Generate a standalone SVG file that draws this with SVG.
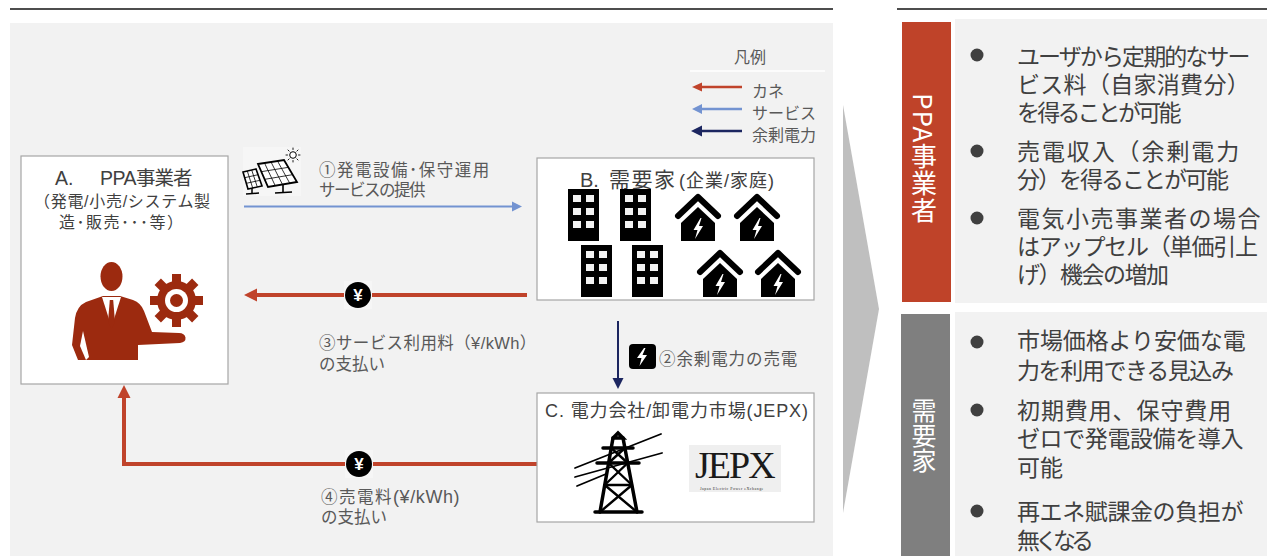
<svg xmlns="http://www.w3.org/2000/svg" width="1267" height="556" viewBox="0 0 1267 556">
  <style>
    .jp { font-family: "Liberation Sans", "Noto Sans CJK JP", sans-serif; }
    .cjk { font-family: "Noto Sans CJK JP", "Noto Sans", sans-serif; }
    .lbl { fill: #595959; font-size: 16.5px; }
    .ttl { fill: #404040; }
    .leg { fill: #595959; font-size: 16px; }
    .pt { fill: #404040; font-size: 23px; }
    .vert { fill: #ffffff; font-size: 26px; writing-mode: vertical-rl; }
    .box { fill: #ffffff; stroke: #a6a6a6; stroke-width: 1.2; }
    .panel { fill: #f2f2f2; }
    .rule { stroke: #4d4d4d; stroke-width: 2; }
    .money { fill: none; stroke: #c0432b; stroke-width: 4; }
    .service { fill: none; stroke: #7393d1; stroke-width: 2; }
    .power { fill: none; stroke: #1c2660; stroke-width: 2; }
    .staff { fill: #9c2a0f; }
  </style>
  <defs>
    <marker id="mRed" markerUnits="userSpaceOnUse" markerWidth="14" markerHeight="14" viewBox="0 -7 14 14" refX="0" refY="0" orient="auto">
      <path d="M0,-6.5 L13,0 L0,6.5 z" fill="#c0432b"/>
    </marker>
    <marker id="mRedS" markerUnits="userSpaceOnUse" markerWidth="12" markerHeight="12" viewBox="0 -6 12 12" refX="0" refY="0" orient="auto">
      <path d="M0,-4.5 L10,0 L0,4.5 z" fill="#c0432b"/>
    </marker>
    <marker id="mBlue" markerUnits="userSpaceOnUse" markerWidth="12" markerHeight="12" viewBox="0 -6 12 12" refX="0" refY="0" orient="auto">
      <path d="M0,-5 L10,0 L0,5 z" fill="#7393d1"/>
    </marker>
    <marker id="mNavy" markerUnits="userSpaceOnUse" markerWidth="12" markerHeight="12" viewBox="0 -6 12 12" refX="0" refY="0" orient="auto">
      <path d="M0,-5.5 L11,0 L0,5.5 z" fill="#1c2660"/>
    </marker>
    <!-- office building: 31 x 52 -->
    <symbol id="building" overflow="visible">
      <rect x="0" y="0" width="31" height="52" fill="#000"/>
      <g fill="#f2f2f2">
        <rect x="5" y="6" width="8" height="7"/>
        <rect x="18" y="6" width="8" height="7"/>
        <rect x="5" y="19" width="8" height="7"/>
        <rect x="18" y="19" width="8" height="7"/>
        <rect x="5" y="32" width="8" height="7"/>
        <rect x="18" y="32" width="8" height="7"/>
      </g>
    </symbol>
    <!-- house with power bolt, origin at roof apex -->
    <symbol id="house" overflow="visible">
      <polyline points="-20,21 0,2 20,21" fill="none" stroke="#000" stroke-width="6" stroke-linecap="round" stroke-linejoin="round"/>
      <polygon points="0,12 17,28 17,46 -17,46 -17,28" fill="#000"/>
      <polygon points="2.5,23 -4.5,35 -0.5,35 -3,44 5,31 1,31 3.5,23" fill="#fff"/>
    </symbol>
    <!-- yen coin -->
    <symbol id="yen" overflow="visible">
      <rect x="-14" y="-14" width="28" height="28" fill="#f6f6f6"/>
      <circle cx="0" cy="0" r="13" fill="#000"/>
      <text x="0" y="6" text-anchor="middle" font-family="Liberation Sans, sans-serif" font-weight="bold" font-size="17" fill="#fff">¥</text>
    </symbol>
  </defs>

  <rect x="0" y="0" width="1267" height="556" fill="#ffffff"/>

  <!-- section rules -->
  <line class="rule" x1="10" y1="9" x2="833" y2="9"/>
  <line class="rule" x1="897" y1="9" x2="1267" y2="9"/>

  <!-- scheme panel -->
  <rect class="panel" x="10" y="23" width="823" height="533"/>

  <!-- legend -->
  <g id="legend" class="jp">
    <text class="leg" x="750" y="63" text-anchor="middle">凡例</text>
    <line x1="690" y1="71" x2="825" y2="71" stroke="#ffffff" stroke-width="1.5"/>
    <line x1="742" y1="87" x2="702" y2="87" stroke="#c0432b" stroke-width="2.7" marker-end="url(#mRedS)"/>
    <line x1="742" y1="109" x2="702" y2="109" stroke="#7393d1" stroke-width="2.7" marker-end="url(#mBlue)"/>
    <line x1="742" y1="131" x2="702" y2="131" stroke="#1c2660" stroke-width="2.7" marker-end="url(#mNavy)"/>
    <text class="leg"><tspan x="752" y="97">カネ</tspan><tspan x="752" y="119">サービス</tspan><tspan x="752" y="141">余剰電力</tspan></text>
  </g>

  <!-- connectors -->
  <g id="connectors" class="jp">
    <line class="service" x1="244" y1="206.5" x2="512" y2="206.5" marker-end="url(#mBlue)"/>
    <line class="money" x1="527" y1="295" x2="257" y2="295" marker-end="url(#mRed)"/>
    <line class="power" x1="618" y1="321" x2="618" y2="378" marker-end="url(#mNavy)"/>
    <path class="money" d="M537,464 H124 V398" marker-end="url(#mRed)"/>
    <use href="#yen" x="358" y="295"/>
    <use href="#yen" x="359" y="464"/>

    <!-- solar panels -->
    <g id="solar" stroke="#000" fill="#fff">
      <rect x="243" y="147" width="58" height="49" fill="#f6f6f6" stroke="none"/>
      <line x1="252" y1="188" x2="252" y2="193.5" stroke-width="1.5"/>
      <line x1="246" y1="194" x2="259" y2="193" stroke-width="1.5"/>
      <polygon points="243,172 256,169 262,186 248,189" stroke-width="1.6"/>
      <g stroke-width="0.8">
        <line x1="247.3" y1="171" x2="252.7" y2="188"/>
        <line x1="251.7" y1="170" x2="257.3" y2="187"/>
        <line x1="244.7" y1="177.7" x2="258" y2="174.7"/>
        <line x1="246.3" y1="183.3" x2="260" y2="180.3"/>
      </g>
      <line x1="283" y1="185" x2="283" y2="192" stroke-width="1.6"/>
      <line x1="275" y1="193" x2="292" y2="192" stroke-width="1.6"/>
      <polygon points="258,164 284,160 297,182 268,187" stroke-width="1.8"/>
      <g stroke-width="0.8">
        <line x1="264.5" y1="163" x2="275.25" y2="185.75"/>
        <line x1="271" y1="162" x2="282.5" y2="184.5"/>
        <line x1="277.5" y1="161" x2="289.75" y2="183.25"/>
        <line x1="261.33" y1="171.67" x2="288.33" y2="167.33"/>
        <line x1="264.67" y1="179.33" x2="292.67" y2="174.67"/>
      </g>
      <circle cx="293" cy="155" r="3.3" stroke-width="1"/>
      <g stroke-width="0.9" stroke-linecap="round">
        <line x1="293" y1="149.5" x2="293" y2="148"/>
        <line x1="293" y1="160.5" x2="293" y2="162"/>
        <line x1="287.5" y1="155" x2="286" y2="155"/>
        <line x1="298.5" y1="155" x2="300" y2="155"/>
        <line x1="289.1" y1="151.1" x2="288" y2="150"/>
        <line x1="296.9" y1="151.1" x2="298" y2="150"/>
        <line x1="289.1" y1="158.9" x2="288" y2="160"/>
        <line x1="296.9" y1="158.9" x2="298" y2="160"/>
      </g>
    </g>

    <!-- power badge -->
    <rect x="629" y="344" width="27" height="25" rx="4" fill="#000"/>
    <polygon points="644,348 637,358 641.5,358 639.5,366 647,355 642.5,355 645.5,348" fill="#fff"/>

    <text class="lbl"><tspan x="319" y="176" letter-spacing="1.5">①発電設備･保守運用</tspan><tspan x="319" y="196" letter-spacing="-1.5">サービスの提供</tspan></text>
    <text class="lbl"><tspan x="319" y="349" letter-spacing="0.4">③サービス利用料（¥/kWh）</tspan><tspan x="319" y="370">の支払い</tspan></text>
    <text class="lbl" x="659" y="365" letter-spacing="0.9">②余剰電力の売電</text>
    <text class="lbl"><tspan x="321" y="503" letter-spacing="1.5">④売電料</tspan><tspan font-size="18" letter-spacing="0.6">(¥/kWh)</tspan><tspan x="321" y="523">の支払い</tspan></text>
  </g>

  <!-- A. PPA operator -->
  <g id="nodeA" class="jp">
    <rect class="box" x="21" y="156" width="207" height="228"/>
    <text class="ttl"><tspan x="55" y="185" font-size="19.5">A.</tspan><tspan x="100" y="185" font-size="19.5" letter-spacing="-0.5">PPA</tspan><tspan font-size="19.5" letter-spacing="-1">事業者</tspan><tspan x="34" y="207" font-size="16" letter-spacing="0.7">（発電/小売/システム製</tspan><tspan x="59" y="228" font-size="16" letter-spacing="1.5">造･販売･･･等）</tspan></text>
    <g id="staff" class="staff">
      <ellipse cx="111.5" cy="276.5" rx="11" ry="14.5"/>
      <path d="M103,296 L86,302 Q77,306 75,318 L72,345 L78,360 L138,360 L138,345 L180,343 Q186,342 185.5,337.5 Q184.5,333 179,333 L152,332 L144,311 Q141,303 133,300 L120,296 Z"/>
      <polygon points="102,297 121,297 111.5,327" fill="#ffffff"/>
      <polygon points="109.8,300 113.2,300 115,322 111.5,329 108,322"/>
      <polygon points="83,331 89,357 86,360 80,346" fill="#ffffff"/>
      <g transform="translate(176.5,300.5)">
        <circle r="19.5"/>
        <rect x="-4.5" y="-26.5" width="9" height="12"/>
        <rect x="-4.5" y="-26.5" width="9" height="12" transform="rotate(45)"/>
        <rect x="-4.5" y="-26.5" width="9" height="12" transform="rotate(90)"/>
        <rect x="-4.5" y="-26.5" width="9" height="12" transform="rotate(135)"/>
        <rect x="-4.5" y="-26.5" width="9" height="12" transform="rotate(180)"/>
        <rect x="-4.5" y="-26.5" width="9" height="12" transform="rotate(225)"/>
        <rect x="-4.5" y="-26.5" width="9" height="12" transform="rotate(270)"/>
        <rect x="-4.5" y="-26.5" width="9" height="12" transform="rotate(315)"/>
        <circle r="11.5" fill="#ffffff"/>
        <circle r="6.5"/>
      </g>
    </g>
  </g>

  <!-- B. consumers -->
  <g id="nodeB" class="jp">
    <rect class="box" x="537" y="158" width="277" height="142"/>
    <text class="ttl" y="187"><tspan x="580" font-size="20">B.</tspan><tspan x="609" font-size="21" letter-spacing="1.5">需要家</tspan><tspan x="679" font-size="18" letter-spacing="1">(企業/家庭)</tspan></text>
    <use href="#building" x="568" y="189"/>
    <use href="#building" x="620" y="189"/>
    <use href="#building" x="581" y="245"/>
    <use href="#building" x="632" y="245"/>
    <use href="#house" x="698" y="195"/>
    <use href="#house" x="757" y="195"/>
    <use href="#house" x="720" y="251"/>
    <use href="#house" x="778" y="251"/>
  </g>

  <!-- C. utility / wholesale market -->
  <g id="nodeC" class="jp">
    <rect class="box" x="537" y="393" width="277" height="129"/>
    <text class="ttl" x="545" y="417" font-size="18" textLength="263">C. 電力会社/卸電力市場(JEPX)</text>
    <g id="tower" stroke="#000" fill="none" stroke-linecap="round">
      <g stroke-width="1.8">
        <line x1="575" y1="468" x2="661" y2="434"/>
        <line x1="575" y1="477" x2="662" y2="453"/>
        <line x1="577" y1="486" x2="606" y2="474"/>
      </g>
      <g stroke-width="3.5">
        <line x1="600" y1="512" x2="613" y2="438"/>
        <line x1="637" y1="512" x2="623" y2="438"/>
        <polyline points="613,438 618,433 623,438 613,438"/>
        <line x1="603" y1="448" x2="633" y2="448"/>
        <line x1="597" y1="463" x2="639" y2="463"/>
        <line x1="595" y1="512" x2="642" y2="512"/>
      </g>
      <g stroke-width="2.4">
        <line x1="611.2" y1="448" x2="627.7" y2="463"/>
        <line x1="624.9" y1="448" x2="608.6" y2="463"/>
        <line x1="608.6" y1="463" x2="631.9" y2="485"/>
        <line x1="627.7" y1="463" x2="604.7" y2="485"/>
        <line x1="604.7" y1="485" x2="631.9" y2="485"/>
        <line x1="604.7" y1="485" x2="637" y2="512"/>
        <line x1="631.9" y1="485" x2="600" y2="512"/>
      </g>
    </g>
    <g id="jepx">
      <rect x="689" y="445" width="92" height="47" fill="#efefef"/>
      <text font-family="Liberation Serif, serif" fill="#1a1a1a"><tspan x="695" y="478" font-size="38" letter-spacing="-2">JEPX</tspan><tspan x="700" y="490" font-size="4" fill="#333" letter-spacing="0.45">Japan Electric Power eXchange</tspan></text>
    </g>
  </g>

  <!-- transition wedge -->
  <polygon points="843,105 879,309 843,513" fill="#bfbfbf"/>

  <!-- PPA operator merits -->
  <g id="meritPPA" class="jp">
    <rect x="902" y="22" width="49" height="280" fill="#bf4329"/>
    <rect class="panel" x="955" y="19" width="312" height="284"/>
    <text class="vert cjk" x="924" y="93" letter-spacing="1">PPA事業者</text>
    <g fill="#404040">
      <circle cx="977" cy="55" r="6.5"/>
      <circle cx="977" cy="151" r="6.5"/>
      <circle cx="977" cy="218" r="6.5"/>
    </g>
    <text class="pt"><tspan x="1017" y="65" letter-spacing="-1.9">ユーザから定期的なサー</tspan><tspan x="1017" y="93" letter-spacing="0.3">ビス料（自家消費分）</tspan><tspan x="1017" y="121" letter-spacing="-2.8">を得ることが可能</tspan></text>
    <text class="pt"><tspan x="1017" y="160" letter-spacing="1.9">売電収入（余剰電力</tspan><tspan x="1017" y="188" letter-spacing="-2">分）を得ることが可能</tspan></text>
    <text class="pt"><tspan x="1017" y="227" letter-spacing="1.5">電気小売事業者の場合</tspan><tspan x="1017" y="255" letter-spacing="-1.2">はアップセル（単価引上</tspan><tspan x="1017" y="283" letter-spacing="-1.5">げ）機会の増加</tspan></text>
  </g>

  <!-- consumer merits -->
  <g id="meritUser" class="jp">
    <rect x="901" y="314" width="49" height="242" fill="#7f7f7f"/>
    <rect class="panel" x="955" y="312" width="312" height="244"/>
    <text class="vert cjk" x="924" y="398" style="font-size:25px">需要家</text>
    <g fill="#404040">
      <circle cx="977" cy="342" r="6.5"/>
      <circle cx="977" cy="410" r="6.5"/>
      <circle cx="977" cy="511" r="6.5"/>
    </g>
    <text class="pt"><tspan x="1017" y="349" letter-spacing="-0.1">市場価格より安価な電</tspan><tspan x="1017" y="379" letter-spacing="-1.4">力を利用できる見込み</tspan></text>
    <text class="pt"><tspan x="1017" y="419" letter-spacing="0.9">初期費用、保守費用</tspan><tspan x="1017" y="447" letter-spacing="-0.4">ゼロで発電設備を導入</tspan><tspan x="1017" y="476">可能</tspan></text>
    <text class="pt"><tspan x="1017" y="520" letter-spacing="-0.4">再エネ賦課金の負担が</tspan><tspan x="1017" y="549" letter-spacing="-5">無くなる</tspan></text>
  </g>
</svg>
